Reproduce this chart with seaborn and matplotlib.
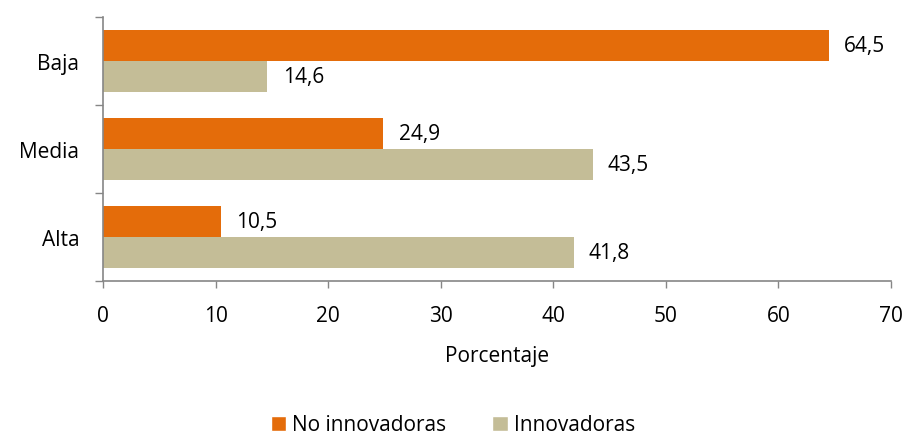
import pandas as pd
import numpy as np
from matplotlib import pyplot as plt
from matplotlib.patches import Patch
import seaborn as sns

categories = ['Baja', 'Media', 'Alta']
no_innovadoras = [64.5, 24.9, 10.5]
innovadoras = [14.6, 43.5, 41.8]
series = ['No innovadoras', 'Innovadoras']
colors = ['#E46C0A', '#C4BD97']
x_ticks = [0, 10, 20, 30, 40, 50, 60, 70]

df = pd.DataFrame({
    'nivel': categories * 2,
    'valor': no_innovadoras + innovadoras,
    'grupo': [series[0]] * 3 + [series[1]] * 3,
})

sns.set_style('white')
plt.rcParams['font.family'] = ['Open Sans', 'DejaVu Sans']
plt.rcParams['text.color'] = 'black'
plt.rcParams['xtick.color'] = 'black'
plt.rcParams['ytick.color'] = 'black'
plt.rcParams['axes.labelcolor'] = 'black'

fig = plt.figure(figsize=(9.06, 4.39), dpi=100)
ax = fig.add_axes([103 / 906, 1 - 282 / 439, 788 / 906, 264 / 439])

sns.barplot(data=df, x='valor', y='nivel', hue='grupo', order=categories,
            hue_order=series, palette=colors, orient='h', width=0.7,
            saturation=1, linewidth=0, ax=ax, legend=False)

for cont in ax.containers:
    ax.bar_label(cont, labels=[f'{b.get_width():.1f}'.replace('.', ',') for b in cont],
                 padding=11, fontsize=15, color='black')

ax.set_xlim(0, 70)
ax.set_ylim(2.5, -0.5)
ax.set_xticks(x_ticks)
ax.set_xlabel('Porcentaje', fontsize=15, labelpad=14)
ax.set_ylabel('')
ax.tick_params(axis='x', bottom=True, labelsize=15, length=5, color='#868686',
               labelcolor='black', width=1, pad=12, direction='out')
ax.tick_params(axis='y', which='major', left=True, labelsize=15, length=0, pad=17,
               labelcolor='black')
ax.set_yticks(np.arange(-0.5, 3, 1), minor=True)
ax.tick_params(axis='y', which='minor', left=True, length=6, color='#868686',
               width=1, direction='out')

for s in ['top', 'right']:
    ax.spines[s].set_visible(False)
for s in ['left', 'bottom']:
    ax.spines[s].set_color('#868686')
    ax.spines[s].set_linewidth(1.2)

handles = [Patch(facecolor=c, label=l) for c, l in zip(colors, series)]
fig.legend(handles=handles, loc='center', bbox_to_anchor=(0.5, 1 - 426 / 439), ncol=2,
           frameon=False, fontsize=15, handlelength=0.75, handleheight=0.75,
           handletextpad=0.3, columnspacing=2.2)

plt.savefig('out.png', dpi=100)
